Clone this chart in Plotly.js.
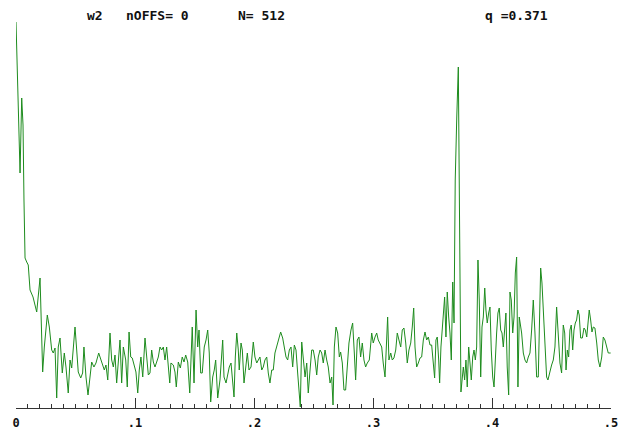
<!DOCTYPE html>
<html>
<head>
<meta charset="utf-8">
<script src="https://cdn.plot.ly/plotly-3.0.1.min.js"></script>
<style>html,body{margin:0;padding:0;background:#fff;}#chart{width:624px;height:432px;}</style>
</head>
<body>
<div id="chart"></div>
<script>
// Frequencies (cycles per sample)
var freq = [0,0.0013,0.0021,0.0034,0.0048,0.0059,0.0067,0.0076,0.0090,0.0103,0.0118,0.0143,0.0174,0.0193,0.0202,0.0216,0.0224,0.0238,0.0263,0.0280,
0.0300,0.0313,0.0328,0.0342,0.0355,0.0370,0.0389,0.0406,0.0420,0.0439,0.0454,0.0468,0.0481,0.0496,0.0510,0.0523,0.0544,0.0560,0.0571,0.0588,
0.0605,0.0622,0.0636,0.0655,0.0672,0.0695,0.0712,0.0729,0.0742,0.0756,0.0771,0.0790,0.0804,0.0818,0.0832,0.0846,0.0860,0.0874,0.0888,0.0902,
0.0922,0.0935,0.0950,0.0964,0.0977,0.0994,0.1008,0.1023,0.1036,0.1050,0.1065,0.1084,0.1098,0.1112,0.1126,0.1140,0.1154,0.1168,0.1182,0.1196,
0.1210,0.1224,0.1238,0.1252,0.1266,0.1280,0.1292,0.1302,0.1322,0.1336,0.1347,0.1364,0.1381,0.1397,0.1412,0.1426,0.1443,0.1460,0.1471,0.1481,
0.1496,0.1513,0.1527,0.1538,0.1552,0.1565,0.1582,0.1597,0.1611,0.1624,0.1636,0.1653,0.1666,0.1678,0.1695,0.1714,0.1737,0.1748,0.1765,0.1779,
0.1792,0.1807,0.1821,0.1832,0.1843,0.1855,0.1868,0.1876,0.1891,0.1902,0.1916,0.1930,0.1944,0.1958,0.1975,0.1994,0.2008,0.2023,0.2036,0.2050,
0.2065,0.2078,0.2092,0.2107,0.2120,0.2134,0.2149,0.2162,0.2176,0.2191,0.2208,0.2224,0.2241,0.2255,0.2269,0.2283,0.2297,0.2311,0.2325,0.2339,
0.2353,0.2367,0.2381,0.2389,0.2401,0.2414,0.2429,0.2443,0.2456,0.2471,0.2485,0.2498,0.2513,0.2527,0.2540,0.2555,0.2569,0.2582,0.2597,0.2611,
0.2624,0.2639,0.2653,0.2664,0.2675,0.2689,0.2703,0.2717,0.2728,0.2742,0.2756,0.2770,0.2784,0.2798,0.2815,0.2829,0.2843,0.2854,0.2868,0.2882,
0.2896,0.2910,0.2924,0.2938,0.2952,0.2969,0.2989,0.3002,0.3017,0.3031,0.3044,0.3059,0.3073,0.3086,0.3101,0.3112,0.3123,0.3134,0.3149,0.3162,
0.3176,0.3191,0.3204,0.3218,0.3233,0.3246,0.3260,0.3275,0.3288,0.3302,0.3317,0.3330,0.3342,0.3353,0.3367,0.3381,0.3395,0.3409,0.3423,0.3437,
0.3451,0.3465,0.3479,0.3493,0.3507,0.3518,0.3529,0.3540,0.3552,0.3560,0.3571,0.3582,0.3591,0.3602,0.3613,0.3624,0.3636,0.3647,0.3658,0.3670,
0.3681,0.3691,0.3704,0.3717,0.3739,0.3759,0.3770,0.3781,0.3792,0.3804,0.3815,0.3826,0.3838,0.3849,0.3860,0.3871,0.3882,0.3893,0.3905,0.3916,
0.3927,0.3939,0.3949,0.3960,0.3972,0.3983,0.3994,0.4006,0.4017,0.4028,0.4039,0.4050,0.4061,0.4073,0.4084,0.4095,0.4107,0.4117,0.4128,0.4140,
0.4151,0.4162,0.4174,0.4185,0.4196,0.4207,0.4218,0.4229,0.4249,0.4263,0.4277,0.4291,0.4305,0.4319,0.4333,0.4347,0.4361,0.4375,0.4389,0.4397,
0.4409,0.4420,0.4431,0.4445,0.4459,0.4470,0.4487,0.4501,0.4515,0.4529,0.4543,0.4557,0.4571,0.4585,0.4599,0.4611,0.4622,0.4633,0.4644,0.4655,
0.4666,0.4678,0.4689,0.4700,0.4711,0.4722,0.4733,0.4745,0.4759,0.4773,0.4784,0.4796,0.4807,0.4817,0.4829,0.4840,0.4851,0.4865,0.4880,0.4893,
0.4907,0.4922,0.4935,0.4949,0.4964,0.4977,0.4997];

// Spectrum values (arbitrary units)
var power = [386,325,275,235,310,283,208,150,146,143,118,111,96,121,130,71,36,61,93,81,
58,55,60,10,61,70,35,55,41,15,48,40,61,81,58,36,30,35,61,31,
13,33,46,41,45,55,48,43,38,43,28,75,48,41,53,25,51,68,25,61,
48,21,76,51,50,41,36,15,38,51,31,70,51,33,35,58,46,41,46,51,
61,58,61,48,61,45,25,45,43,36,21,46,40,51,46,53,46,15,58,81,
25,98,61,78,35,35,61,68,78,55,6,31,38,48,10,28,68,31,25,35,
41,45,21,11,51,75,58,38,65,58,25,41,55,38,41,66,51,45,48,51,
38,41,48,51,35,25,38,38,55,61,70,76,70,58,51,48,58,61,41,63,
58,35,15,1,66,45,31,45,15,38,58,58,48,33,51,58,55,45,58,48,
41,25,31,3,61,81,75,51,56,45,18,18,38,65,78,85,55,28,68,71,
51,65,48,41,45,48,75,65,71,75,68,65,61,45,31,61,91,48,55,48,
50,58,75,68,61,78,80,65,45,58,65,81,100,61,41,45,50,51,68,76,
68,71,63,63,41,30,68,71,48,25,61,81,100,111,71,116,91,75,48,126,
85,228,291,341,16,41,28,48,21,61,45,28,51,58,48,61,148,108,31,81,
91,120,98,85,95,101,58,31,21,58,75,95,100,78,75,61,86,95,41,13,
116,108,75,91,135,151,21,91,75,55,48,45,51,55,78,108,75,31,31,91,
140,125,98,58,31,28,38,43,48,61,101,75,45,35,83,75,38,58,51,78,
83,58,78,85,88,98,93,70,70,80,78,71,83,98,88,76,81,80,65,48,
41,51,71,68,61,55,55];

var tickVals = [0, 0.1, 0.2, 0.3, 0.4, 0.5];
var tickText = ["0", ".1", ".2", ".3", ".4", ".5"];

var headerTexts = ["w2", "nOFFS= 0", "N= 512", "q =0.371"];
var headerX = [0.1176, 0.1832, 0.3714, 0.7866];

var monoFont = {family: "DejaVu Sans Mono, Liberation Mono, monospace", size: 13, color: "#111", weight: "bold"};
var tickFont = {family: "DejaVu Sans Mono, Liberation Mono, monospace", size: 12, color: "#111", weight: "bold"};

var trace = {
  x: freq,
  y: power,
  type: "scatter",
  mode: "lines",
  line: {color: "#1e8c1e", width: 1},
  hoverinfo: "skip"
};

var annotations = headerTexts.map(function (t, i) {
  return {
    text: t, xref: "paper", yref: "paper", x: headerX[i], y: 0.962,
    xanchor: "left", yanchor: "middle", showarrow: false, font: monoFont, borderpad: 0
  };
});

var layout = {
  width: 624,
  height: 432,
  margin: {l: 16, r: 13, t: 0, b: 24, pad: 0},
  paper_bgcolor: "#ffffff",
  plot_bgcolor: "#ffffff",
  showlegend: false,
  xaxis: {
    range: [0, 0.5],
    showgrid: false,
    zeroline: false,
    showline: true,
    linecolor: "#333",
    linewidth: 1,
    ticks: "inside",
    ticklen: 10,
    tickwidth: 1,
    tickcolor: "#333",
    tickmode: "array",
    tickvals: tickVals,
    ticktext: tickText,
    tickfont: tickFont,
    ticklabelstandoff: 4,
    minor: {dtick: 0.01, ticks: "inside", ticklen: 4, tickwidth: 1, tickcolor: "#333", showgrid: false}
  },
  yaxis: {
    range: [0, 408],
    visible: false,
    showgrid: false,
    zeroline: false
  },
  annotations: annotations
};

Plotly.newPlot("chart", [trace], layout, {displayModeBar: false, staticPlot: true});
</script>
</body>
</html>
